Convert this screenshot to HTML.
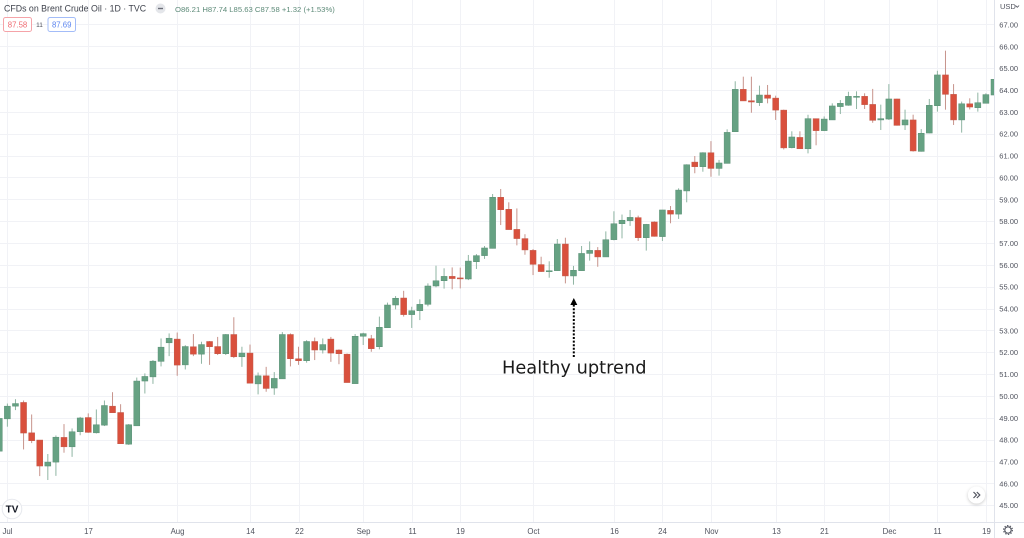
<!DOCTYPE html>
<html>
<head>
<meta charset="utf-8">
<style>
html,body{margin:0;padding:0;background:#fff;}
body{width:1024px;height:538px;overflow:hidden;font-family:"Liberation Sans",sans-serif;}
svg{display:block;}
text{font-family:"Liberation Sans",sans-serif;}
</style>
</head>
<body>
<svg id="chart" width="1024" height="538" viewBox="0 0 1024 538" xmlns="http://www.w3.org/2000/svg">
  <defs>
    <clipPath id="plot-clip"><rect x="0" y="0" width="994.5" height="522"/></clipPath>
    <filter id="soft-shadow" x="-50%" y="-50%" width="200%" height="200%"><feDropShadow dx="0" dy="1" stdDeviation="1.5" flood-color="#000" flood-opacity="0.22"/></filter>
  </defs>
  <rect width="1024" height="538" fill="#fff"/>
  <g id="grid"></g>
  <g id="candles" clip-path="url(#plot-clip)"></g>
  <line x1="994.5" y1="0" x2="994.5" y2="538" stroke="#e0e3eb"/>
  <line x1="0" y1="522.5" x2="1024" y2="522.5" stroke="#e0e3eb"/>
  <g id="y-axis"></g>
  <g id="x-axis"></g>
  <g>
    <text x="1000" y="9" font-size="7.5" fill="#50535e">USD</text>
    <path d="M1015.5 5.5 l1.8 1.8 l1.8 -1.8" fill="none" stroke="#50535e" stroke-width="0.8"/>
  </g>
  <text x="4" y="11.5" font-size="8.8" fill="#3f434d">CFDs on Brent Crude Oil · 1D · TVC</text>
  <g>
    <circle cx="160.5" cy="8.5" r="5" fill="#e4e6ea"/>
    <rect x="158" y="7.8" width="5" height="1.4" fill="#6a6d78"/>
  </g>
  <text x="175" y="12" font-size="7.7" fill="#5d8a78">O86.21  H87.74  L85.63  C87.58  +1.32 (+1.53%)</text>
  <g>
    <rect x="3.5" y="17.5" width="28" height="14" rx="2" fill="#fff" stroke="#f5a3a8"/>
    <text x="17.5" y="27.5" text-anchor="middle" font-size="7.8" fill="#ef6b72">87.58</text>
  </g>
  <text x="39.5" y="27" text-anchor="middle" font-size="6.5" fill="#50535e">11</text>
  <g>
    <rect x="48" y="17.5" width="27.5" height="14" rx="2" fill="#fff" stroke="#a3bcf8"/>
    <text x="61.7" y="27.5" text-anchor="middle" font-size="7.8" fill="#5c85ef">87.69</text>
  </g>
  <g>
    <circle cx="12" cy="509" r="9.8" fill="#fff" stroke="#e6e8ed"/>
    <text x="12" y="512.5" text-anchor="middle" font-size="10" font-weight="bold" fill="#131722">TV</text>
  </g>
  <g>
    <circle cx="976.5" cy="495" r="8.5" fill="#fff" filter="url(#soft-shadow)"/>
    <path d="M973.5 492 l3 3 l-3 3 M976.8 492 l3 3 l-3 3" fill="none" stroke="#50535e" stroke-width="1.2"/>
  </g>
  <g>
    <circle cx="1008" cy="530" r="3.2" fill="none" stroke="#50535e" stroke-width="1.1"/>
    <circle cx="1008" cy="530" r="4.4" fill="none" stroke="#50535e" stroke-width="1.1" stroke-dasharray="1.4 1.4"/>
  </g>
  <g>
    <line x1="573.8" y1="357" x2="573.8" y2="305" stroke="#000" stroke-width="2" stroke-dasharray="2 1.6"/>
    <polygon points="573.8,298 570.3,305 577.3,305" fill="#000"/>
  </g>
  <text x="502" y="373.5" font-size="17.8" style="font-family:'DejaVu Sans',sans-serif" fill="#1a1a1a">Healthy uptrend</text>
</svg>
<script>
var opens = [47.47,48.95,49.53,49.70,48.31,47.98,46.79,46.97,48.10,47.67,48.36,49.01,48.31,48.66,49.53,49.24,47.79,48.63,50.68,50.87,
51.58,52.43,52.60,51.42,52.25,51.91,52.49,52.26,51.93,52.81,51.79,51.96,50.55,50.92,50.36,50.78,52.81,51.70,51.61,52.49,
52.10,52.60,52.10,51.91,50.56,52.73,52.62,52.25,53.12,54.16,54.48,53.72,53.90,54.19,55.03,55.27,55.47,55.40,55.35,56.14,
56.42,56.75,59.09,58.54,57.62,57.20,56.66,56.01,55.70,55.73,56.95,55.49,55.73,56.52,56.66,56.36,57.15,57.88,58.02,58.16,
57.24,57.96,57.29,58.49,58.32,59.38,60.70,60.49,61.13,60.41,60.64,62.09,64.03,63.51,63.42,63.77,63.63,63.08,61.36,61.83,
61.31,62.69,62.14,62.63,63.24,63.30,63.69,63.71,63.34,62.63,62.67,63.59,62.40,62.63,61.19,62.03,63.28,64.69,63.80,62.63,
63.37,63.19,63.39,63.77];
var highs = [48.97,49.65,49.85,49.79,49.15,47.98,47.34,48.19,48.71,48.51,49.04,49.20,49.38,49.79,50.17,49.62,48.71,50.84,51.03,51.64,
52.63,52.86,52.90,52.32,52.83,52.48,52.51,52.70,52.83,53.60,52.25,52.35,51.07,51.33,51.09,52.92,52.86,52.25,52.55,52.67,
52.63,52.70,52.13,51.94,52.83,52.89,52.79,53.63,54.27,54.57,54.81,54.08,54.42,55.15,55.96,55.84,55.88,55.87,56.45,56.49,
56.86,59.24,59.47,58.86,58.58,57.40,56.72,56.37,56.16,57.18,57.24,55.95,56.86,57.07,56.81,57.53,58.45,58.30,58.51,58.25,
57.87,57.99,58.51,58.69,59.50,60.60,60.98,61.15,61.66,60.80,62.20,64.40,64.61,64.61,64.20,64.23,63.74,63.10,62.11,62.11,
62.87,62.69,62.79,63.39,63.54,63.92,63.94,63.85,64.05,63.33,64.27,63.60,63.10,62.87,62.21,63.59,64.88,65.80,64.27,63.47,
63.62,63.88,63.85,64.49];
var lows = [47.47,48.59,49.35,47.55,47.84,46.33,46.15,46.34,47.40,47.21,48.20,48.31,48.28,48.62,49.23,47.81,47.76,48.63,50.11,50.55,
51.35,51.82,50.92,51.21,51.82,51.47,51.42,51.87,51.87,51.73,51.33,50.58,50.07,50.19,50.05,50.78,51.35,51.42,51.52,51.64,
51.94,51.56,51.45,50.61,50.56,52.33,52.02,52.13,53.12,53.96,53.63,53.11,53.47,54.10,54.97,54.91,54.88,54.92,55.30,55.81,
56.27,56.75,57.82,57.61,56.89,56.46,55.53,55.67,55.41,55.72,55.15,55.09,55.72,56.19,55.91,56.36,57.12,57.21,57.78,57.09,
56.65,57.29,57.09,57.90,58.10,58.86,60.19,60.26,60.03,60.08,60.64,62.09,63.50,62.96,63.27,63.39,62.63,61.28,61.33,61.30,
61.10,61.47,62.12,62.63,62.90,63.28,63.13,63.13,62.50,62.17,62.63,62.37,62.17,61.18,61.18,62.02,63.01,63.10,62.40,62.05,
63.11,63.01,63.39,63.77];
var closes = [48.97,49.53,49.65,48.30,47.95,46.79,46.97,48.11,47.67,48.36,48.99,48.33,48.68,49.56,49.23,47.81,48.68,50.68,50.89,51.59,
52.23,52.64,51.41,52.26,51.91,52.35,52.25,51.93,52.81,51.79,51.96,50.58,50.92,50.34,50.80,52.81,51.70,51.61,52.49,52.10,
52.35,51.96,51.93,50.61,52.73,52.85,52.16,53.14,54.16,54.47,53.72,53.90,54.19,55.03,55.27,55.47,55.37,55.37,56.17,56.42,
56.77,59.09,58.52,57.61,57.20,56.68,56.02,55.69,55.73,56.95,55.49,55.75,56.52,56.66,56.36,57.15,57.88,58.04,58.17,57.24,
57.85,57.30,58.51,58.32,59.42,60.58,60.49,61.13,60.41,60.66,62.06,64.03,63.50,63.45,63.77,63.62,63.08,61.35,61.85,61.31,
62.69,62.14,62.67,63.27,63.39,63.71,63.71,63.33,62.61,62.69,63.59,62.38,62.63,61.21,62.02,63.30,64.69,63.80,62.63,63.37,
63.22,63.42,63.79,64.49];
var priceTicks = [45,46,47,48,49,50,51,52,53,54,55,56,57,58,59,60,61,62,63,64,65,66,67];
var timeTickIndex = [1,11,22,31,37,45,51,57,66,76,82,88,96,102,110,116,122];
var timeTickLabels = ["Jul","17","Aug","14","22","Sep","11","19","Oct","16","24","Nov","13","21","Dec","11","19"];

(function () {
  var NS = "http://www.w3.org/2000/svg";
  function yScale(p) { return 90 + (64 - p) * 21.85; }
  function xScale(i) { return -0.7 + 8.087 * i; }
  function make(tag, attrs, parent) {
    var el = document.createElementNS(NS, tag);
    for (var k in attrs) el.setAttribute(k, attrs[k]);
    parent.appendChild(el);
    return el;
  }
  var gridG = document.getElementById("grid");
  var candleG = document.getElementById("candles");
  var yG = document.getElementById("y-axis");
  var xG = document.getElementById("x-axis");

  priceTicks.forEach(function (p) {
    var y = Math.round(yScale(p)) + 0.5;
    var line = make("line", {x1: 0, x2: 994, y1: y, y2: y, stroke: "#f1f2f6"}, gridG);
    
    
    var t = make("text", {x: 1008.7, y: yScale(p) + 3, "text-anchor": "middle", "font-size": "7.5", fill: "#50535e"}, yG);
    
    
    t.textContent = p.toFixed(2);
  });
  timeTickIndex.forEach(function (idx, n) {
    var x = Math.round(xScale(idx)) + 0.5;
    var line = make("line", {x1: x, x2: x, y1: 0, y2: 522, stroke: "#f1f2f6"}, gridG);
    
    
    var t = make("text", {x: x, y: 534, "text-anchor": "middle", "font-size": "7.8", fill: "#50535e"}, xG);
    
    
    t.textContent = timeTickLabels[n];
  });
  for (var i = 0; i < opens.length; i++) {
    var up = closes[i] >= opens[i];
    var cx = xScale(i);
    var wick = make("line", {x1: cx, x2: cx, y1: yScale(highs[i]), y2: yScale(lows[i]), stroke: up ? "#8fb5a3" : "#c7938b", "stroke-width": 1}, candleG);
    
    
    var bodyTop = yScale(Math.max(opens[i], closes[i]));
    var bodyBottom = yScale(Math.min(opens[i], closes[i]));
    var body = make("rect", {x: cx - 3, y: bodyTop, width: 6, height: Math.max(bodyBottom - bodyTop, 1), fill: up ? "#66a283" : "#d9503d", stroke: up ? "#5a8f75" : "#c25a4a", "stroke-width": 0.5}, candleG);
    
    
  }
})();
</script>
</body>
</html>
